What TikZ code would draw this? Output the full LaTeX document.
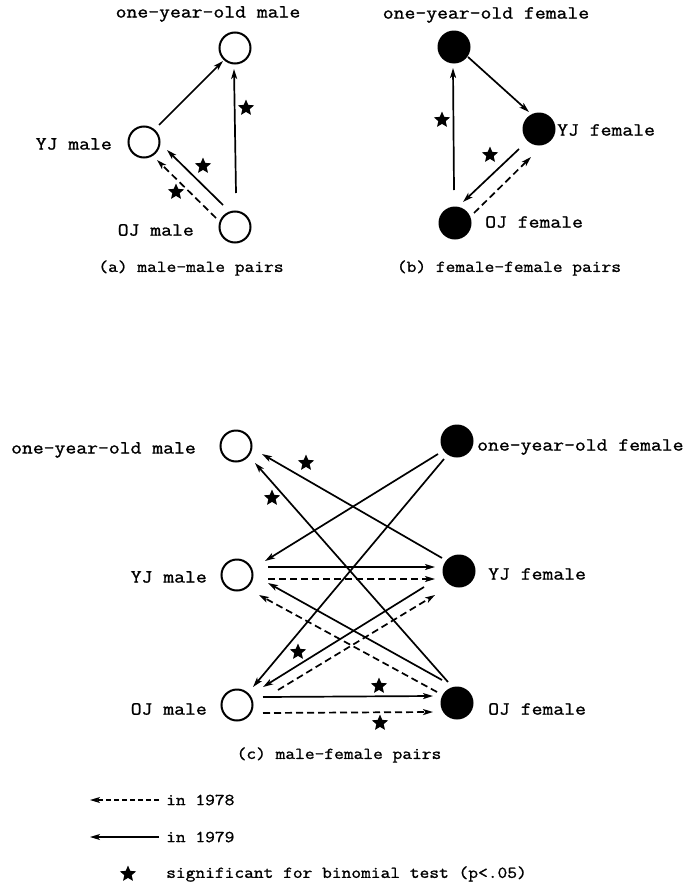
\documentclass[tikz,border=0pt]{standalone}
\usepackage{fontspec}
\setmainfont{Latin Modern Mono}[FakeStretch=1.14, FakeBold=1.2]
\usetikzlibrary{arrows.meta,shapes.geometric,calc}

\tikzset{
  male/.style={circle, draw=black, line width=2pt, fill=white, minimum size=31pt, inner sep=0pt},
  female/.style={circle, fill=black, minimum size=33pt, inner sep=0pt},
  lab/.style={inner sep=0pt, font=\fontsize{18.5}{20}\selectfont},
  captext/.style={inner sep=0pt, font=\fontsize{16.6}{18}\selectfont},
  sig/.style={star, star points=5, star point ratio=2.2, fill=black, inner sep=0pt, minimum size=17pt},
  y79/.style={line width=1.7pt, -{Stealth[length=10pt,width=6pt,inset=2.5pt]}},
  y78/.style={y79, dash pattern=on 7pt off 4pt},
}

\begin{document}
\begin{tikzpicture}[x=1pt,y=-1pt]
\useasboundingbox (0,0) rectangle (691,886);

% ---------------- (a) male-male pairs ----------------
\node[male] (A1) at (235,48) {};
\node[male] (AY) at (144,142) {};
\node[male] (AO) at (235,227) {};
\node[lab] (A1t) at (208,14) {one-year-old male};
\node[lab, anchor=east] (AYt) at (112,144) {YJ male};
\node[lab, anchor=east] (AOt) at (194,230) {OJ male};
\node[captext] (capa) at (191,268) {(a) male-male pairs};

\draw[y79] ($(AY)+(15,-17)$) -- ($(A1)+(-12,13)$);
\draw[y79] ($(AO)+(1,-34)$) -- ($(A1)+(-1,21)$);
\draw[y79] ($(AO)+(-12,-22)$) -- ($(AY)+(23,8)$);
\draw[y78] ($(AO)+(-19,-9)$) -- ($(AY)+(13,18)$);
\node[sig] (sa1) at (246,108) {};
\node[sig] (sa2) at (203,166) {};
\node[sig] (sa3) at (176,192) {};

% ---------------- (b) female-female pairs ----------------
\node[female] (B1) at (454,47) {};
\node[female] (BY) at (539,129) {};
\node[female] (BO) at (455,223) {};
\node[lab] (B1t) at (486,15) {one-year-old female};
\node[lab, anchor=west] (BYt) at (557,130) {YJ female};
\node[lab, anchor=west] (BOt) at (485,222) {OJ female};
\node[captext] (capb) at (509,268) {(b) female-female pairs};

\draw[y79] ($(B1)+(14,10)$) -- ($(BY)+(-10,-17)$);
\draw[y79] ($(BO)+(-1,-33)$) -- ($(B1)+(-1,21)$);
\draw[y79] ($(BY)+(-20,20)$) -- ($(BO)+(8,-21)$);
\draw[y78] ($(BO)+(19,-10)$) -- ($(BY)+(-8,28)$);
\node[sig] (sb1) at (442,120) {};
\node[sig] (sb2) at (490,155) {};

% ---------------- (c) male-female pairs ----------------
\node[male] (M1) at (236,446) {};
\node[male] (MY) at (237,575) {};
\node[male] (MO) at (237,705) {};
\node[female] (F1) at (457,441) {};
\node[female] (FY) at (459,571) {};
\node[female] (FO) at (457,703) {};
\node[lab, anchor=east] (M1t) at (196,450) {one-year-old male};
\node[lab, anchor=east] (MYt) at (207,577) {YJ male};
\node[lab, anchor=east] (MOt) at (207,709) {OJ male};
\node[lab, anchor=west] (F1t) at (477,447) {one-year-old female};
\node[lab, anchor=west] (FYt) at (488,574) {YJ female};
\node[lab, anchor=west] (FOt) at (488,709) {OJ female};
\node[captext] (capc) at (339,755) {(c) male-female pairs};

\draw[y79] ($(FY)+(-17,-13)$) -- ($(M1)+(26,8)$);
\draw[y79] ($(FO)+(-9,-21)$) -- ($(M1)+(19,17)$);
\draw[y79] ($(F1)+(-19,13)$) -- ($(MY)+(28,-14)$);
\draw[y79] ($(F1)+(-13,18)$) -- ($(MO)+(16,-18)$);
\draw[y79] ($(MY)+(31,-8)$) -- ($(FY)+(-24,-4)$);
\draw[y78] ($(MY)+(31,4)$) -- ($(FY)+(-24,8)$);
\draw[y79] ($(FY)+(-35,16)$) -- ($(MO)+(26,-18)$);
\draw[y78] ($(MO)+(41,-15)$) -- ($(FY)+(-24,24)$);
\draw[y79] ($(FO)+(-15,-23)$) -- ($(MY)+(31,8)$);
\draw[y78] ($(FO)+(-20,-11)$) -- ($(MY)+(22,20)$);
\draw[y79] ($(MO)+(26,-8)$) -- ($(FO)+(-24,-7)$);
\draw[y78] ($(MO)+(26,8)$) -- ($(FO)+(-24,9)$);
\node[sig] (sc1) at (306,463) {};
\node[sig] (sc2) at (272,498) {};
\node[sig] (sc3) at (298,652) {};
\node[sig] (sc4) at (379,686) {};
\node[sig] (sc5) at (380,723) {};

% ---------------- legend ----------------
\node[captext, anchor=west] (k78) at (166,800) {in 1978};
\node[captext, anchor=west] (k79) at (166,837) {in 1979};
\node[captext, anchor=west] (ksig) at (166,874) {significant for binomial test (p<.05)};
\coordinate (e78) at (90,800);
\coordinate (e79) at (90,837);
\draw[y78, line width=1.4pt, dash pattern=on 5pt off 3pt] ([xshift=-7pt]k78.west) -- (e78);
\draw[y79, line width=1.4pt] ([xshift=-7pt]k79.west) -- (e79);
\node[sig] (ks) at (128,874) {};
\end{tikzpicture}
\end{document}
